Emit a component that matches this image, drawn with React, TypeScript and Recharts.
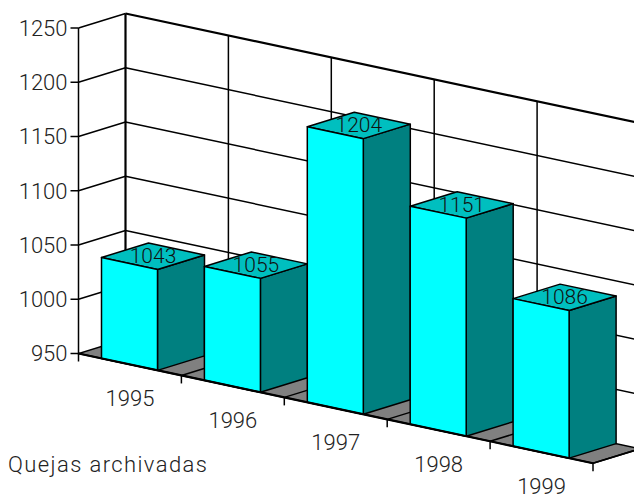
import React from 'react';
import { BarChart, Bar, XAxis, YAxis, CartesianGrid, LabelList } from 'recharts';

const years = ['1995', '1996', '1997', '1998', '1999'];
const quejas = [1043, 1055, 1204, 1151, 1086];
const valueTicks = [950, 1000, 1050, 1100, 1150, 1200, 1250];

const chartData = years.map((year, i) => ({ year, quejas: quejas[i] }));

// oblique projection: the front plane falls to the right, depth goes up and right
const PLOT_LEFT = 78.5;
const PLOT_RIGHT = 593;
const PLOT_TOP = 28;
const PLOT_BOTTOM = 353.5;
const BAND = (PLOT_RIGHT - PLOT_LEFT) / years.length;
const SLOPE = 0.2133;
const DEPTH_X = 47;
const DEPTH_Y = 14.5;

const FONT = 'Roboto, sans-serif';
const TEXT_COLOR = '#222';
const THIN = 1.5;
const BOLD = 2.2;

const drop = (x: number) => (x - PLOT_LEFT) * SLOPE;

const pts = (list: number[][]) => list.map((p) => p.join(',')).join(' ');

// side wall line plus back wall line for one value tick; the lowest tick also lays the floor
function WallLine({ x1, x2, y1, index }: any) {
  const isTop = Math.abs(y1 - PLOT_TOP) < 1;
  const isFloor = Math.abs(y1 - PLOT_BOTTOM) < 1;
  const backLeft = [x1 + DEPTH_X, y1 - DEPTH_Y];
  const backRight = [x2 + DEPTH_X, y1 - DEPTH_Y + drop(x2)];
  if (isFloor) {
    return (
      <polygon
        key={`floor-${index}`}
        points={pts([[x1, y1], [x2, y1 + drop(x2)], backRight, backLeft])}
        fill="#808080"
        stroke="#000"
        strokeWidth={THIN}
      />
    );
  }
  return (
    <g key={`wall-${index}`} stroke="#000" fill="none">
      <line x1={x1} y1={y1} x2={backLeft[0]} y2={backLeft[1]} strokeWidth={THIN} />
      <line
        x1={backLeft[0]}
        y1={backLeft[1]}
        x2={backRight[0]}
        y2={backRight[1]}
        strokeWidth={isTop ? BOLD : THIN}
      />
    </g>
  );
}

// category divider on the back wall, continued across the floor
function DividerLine({ x1, y1, y2, index }: any) {
  const x = x1 + BAND / 2;
  const d = drop(x);
  return (
    <g key={`divider-${index}`} stroke="#000" fill="none" strokeWidth={THIN}>
      {index === 0 && (
        <line
          x1={PLOT_LEFT + DEPTH_X}
          y1={y1 - DEPTH_Y}
          x2={PLOT_LEFT + DEPTH_X}
          y2={y2 - DEPTH_Y}
          strokeWidth={BOLD}
        />
      )}
      <line x1={x + DEPTH_X} y1={y1 - DEPTH_Y + d} x2={x + DEPTH_X} y2={y2 - DEPTH_Y + d} />
      <line x1={x} y1={y2 + d} x2={x + DEPTH_X} y2={y2 + d - DEPTH_Y} />
    </g>
  );
}

function Box({ x, y, width, height }: any) {
  const left = x;
  const right = x + width;
  const bottom = y + height;
  const dl = drop(left);
  const dr = drop(right);
  const frontFace = [[left, y + dl], [right, y + dr], [right, bottom + dr], [left, bottom + dl]];
  const sideFace = [
    [right, y + dr],
    [right + DEPTH_X, y + dr - DEPTH_Y],
    [right + DEPTH_X, bottom + dr - DEPTH_Y],
    [right, bottom + dr],
  ];
  const topFace = [
    [left, y + dl],
    [left + DEPTH_X, y + dl - DEPTH_Y],
    [right + DEPTH_X, y + dr - DEPTH_Y],
    [right, y + dr],
  ];
  return (
    <g stroke="#000" strokeWidth={THIN} strokeLinejoin="round">
      <polygon points={pts(sideFace)} fill="#008080" />
      <polygon points={pts(topFace)} fill="#00BFBF" />
      <polygon points={pts(frontFace)} fill="#00FFFF" />
    </g>
  );
}

function TopLabel({ x, y, width, value }: any) {
  const cx = x + width / 2;
  return (
    <text
      x={cx + DEPTH_X / 2}
      y={y + drop(cx) - DEPTH_Y / 2}
      textAnchor="middle"
      dominantBaseline="central"
      fontFamily={FONT}
      fontWeight={300}
      fontSize={21}
      fill="#111"
    >
      {value}
    </text>
  );
}

// axis segment, tick mark and year label, all following the falling front edge
function YearTick({ x, payload, index }: any) {
  const start = x - BAND / 2;
  const end = x + BAND / 2;
  return (
    <g>
      <line
        x1={start}
        y1={PLOT_BOTTOM + drop(start)}
        x2={end}
        y2={PLOT_BOTTOM + drop(end)}
        stroke="#000"
        strokeWidth={BOLD}
      />
      {index === 0 && (
        <line x1={start} y1={PLOT_BOTTOM} x2={start} y2={PLOT_BOTTOM + 8} stroke="#000" strokeWidth={THIN} />
      )}
      <line
        x1={end}
        y1={PLOT_BOTTOM + drop(end)}
        x2={end}
        y2={PLOT_BOTTOM + drop(end) + 8}
        stroke="#000"
        strokeWidth={THIN}
      />
      <text
        x={x}
        y={PLOT_BOTTOM + drop(x) + 34}
        textAnchor="middle"
        dominantBaseline="central"
        fontFamily={FONT}
        fontWeight={300}
        fontSize={22}
        fill={TEXT_COLOR}
      >
        {payload.value}
      </text>
    </g>
  );
}

export default function App() {
  return (
    <div style={{ position: 'absolute', left: 0, top: 0 }}>
      <BarChart
        width={634}
        height={495}
        data={chartData}
        barSize={56}
        margin={{ top: PLOT_TOP, right: 634 - PLOT_RIGHT, bottom: 101.5, left: 0 }}
      >
        <CartesianGrid syncWithTicks horizontal={WallLine} vertical={DividerLine} />
        <XAxis
          dataKey="year"
          height={40}
          interval={0}
          axisLine={false}
          tickLine={false}
          tick={YearTick}
        />
        <YAxis
          width={PLOT_LEFT}
          domain={[950, 1250]}
          ticks={valueTicks}
          interval={0}
          tickSize={8}
          tickMargin={3}
          axisLine={{ stroke: '#000', strokeWidth: THIN }}
          tickLine={{ stroke: '#000', strokeWidth: THIN }}
          tick={{ fontFamily: FONT, fontWeight: 300, fontSize: 22, fill: TEXT_COLOR }}
        />
        <Bar dataKey="quejas" shape={Box} isAnimationActive={false}>
          <LabelList dataKey="quejas" content={TopLabel} />
        </Bar>
        <text
          x={8}
          y={472}
          fontFamily={FONT}
          fontWeight={300}
          fontSize={22}
          letterSpacing={1.4}
          fill={TEXT_COLOR}
        >
          Quejas archivadas
        </text>
      </BarChart>
    </div>
  );
}
